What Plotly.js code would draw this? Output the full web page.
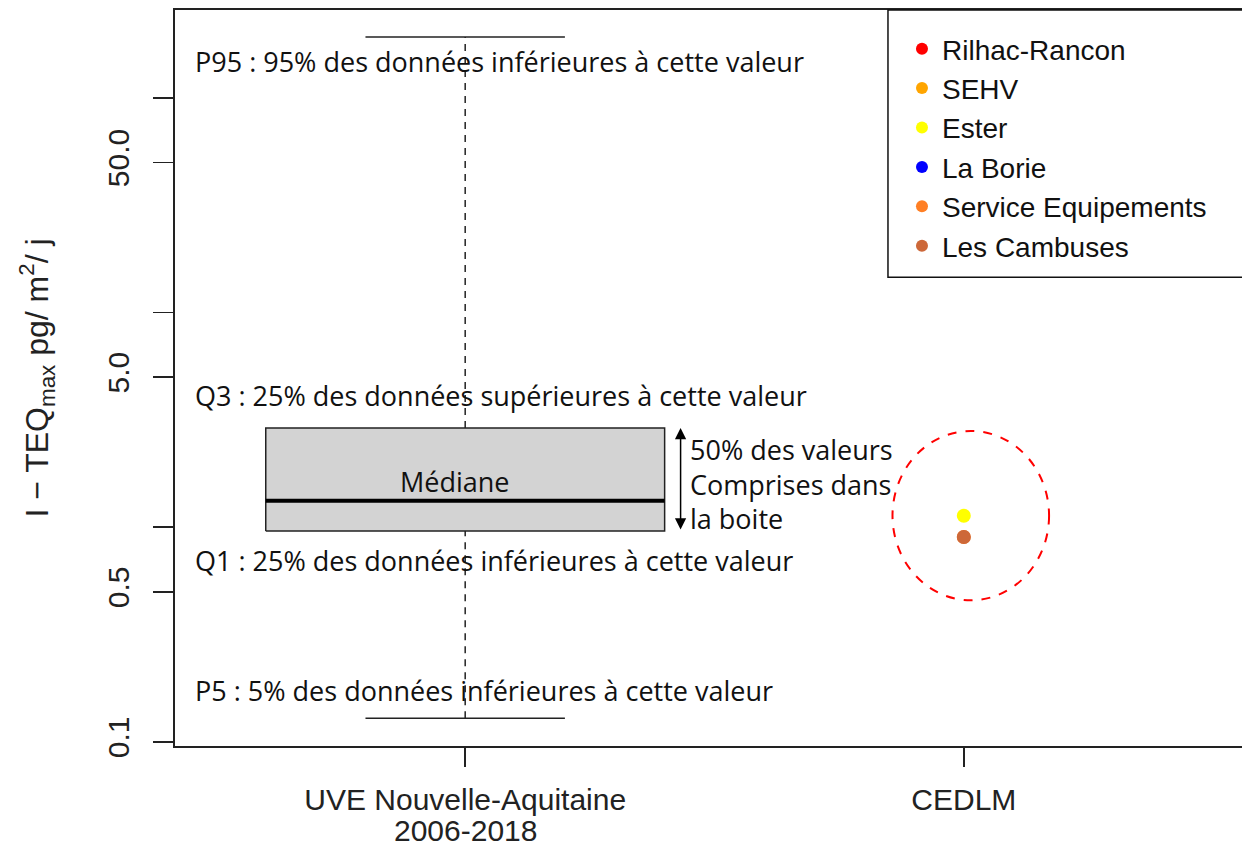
<!DOCTYPE html>
<html>
<head>
<meta charset="utf-8">
<script src="https://cdn.plot.ly/plotly-3.0.1.min.js"></script>
<style>
html, body { margin:0; padding:0; overflow:hidden; background:#fff; }
#chart { width:1252px; height:848px; }
</style>
</head>
<body>
<div id="chart"></div>
<script>
// ---- data ----
const categories = ['UVE Nouvelle-Aquitaine<br>2006-2018', 'CEDLM'];
const categoryPos = [1, 2];
const statNames = ['P5', 'Q1', 'Médiane', 'Q3', 'P95'];
const uveStats = [0.129, 0.96, 1.33, 2.90, 192];
const sites = ['Rilhac-Rancon', 'SEHV', 'Ester', 'La Borie', 'Service Equipements', 'Les Cambuses'];
const siteValues = [null, null, 1.13, null, 0.90, 0.90];
const siteColors = ['#FF0000', '#FFA500', '#FFFF00', '#0000FF', '#FF7F24', '#CD6839'];
const yTickVals = [0.1, 0.5, 5, 50];
const yTickText = ['0.1', '0.5', '5.0', '50.0'];
const yMinorTickVals = [1, 10, 100];

const [p5, q1, med, q3, p95] = uveStats;
const cx = categoryPos[0];
const halfBox = 0.4, halfCap = 0.2;

const ARIAL = 'Liberation Sans, Arial, sans-serif';
const SEGOE = 'Open Sans, Noto Sans, sans-serif';

const traces = [];
traces.push({
  x: [cx - halfBox, cx + halfBox, cx + halfBox, cx - halfBox, cx - halfBox],
  y: [q1, q1, q3, q3, q1],
  mode: 'lines', fill: 'toself', fillcolor: '#D3D3D3',
  line: {color: '#222', width: 1.5}, showlegend: false, hoverinfo: 'skip'
});
traces.push({
  x: [cx - halfBox, cx + halfBox], y: [med, med], mode: 'lines',
  line: {color: '#000', width: 4}, showlegend: false, hoverinfo: 'skip'
});
traces.push({
  x: [cx, cx, null, cx, cx], y: [q3, p95, null, p5, q1], mode: 'lines',
  line: {color: '#222', width: 1.5, dash: '7px,6px'}, showlegend: false, hoverinfo: 'skip'
});
traces.push({
  x: [cx - halfCap, cx + halfCap, null, cx - halfCap, cx + halfCap],
  y: [p95, p95, null, p5, p5], mode: 'lines',
  line: {color: '#222', width: 1.5}, showlegend: false, hoverinfo: 'skip'
});
sites.forEach((s, i) => {
  traces.push({
    x: [categoryPos[1]], y: [siteValues[i]], mode: 'markers', name: s,
    marker: {color: siteColors[i], size: 14}
  });
});

const txtFont = {family: SEGOE, size: 27, color: '#111'};
const xText = 0.454;
const annotations = [
  {x: xText, y: Math.log10(p95), yshift: -25, text: 'P95 : 95% des données inférieures à cette valeur'},
  {x: xText, y: Math.log10(q3), yshift: 32, text: 'Q3 : 25% des données supérieures à cette valeur'},
  {x: xText, y: Math.log10(q1), yshift: -29, text: 'Q1 : 25% des données inférieures à cette valeur'},
  {x: xText, y: Math.log10(p5), yshift: 28, text: 'P5 : 5% des données inférieures à cette valeur'},
].map(a => Object.assign(a, {xref: 'x', yref: 'y', xanchor: 'left', yanchor: 'middle', showarrow: false, font: txtFont}));
annotations.push({x: 0.98, y: Math.log10(med), yshift: 19, text: 'Médiane', xref: 'x', yref: 'y',
  xanchor: 'center', yanchor: 'middle', showarrow: false, font: txtFont});
const boxMidLog = (Math.log10(q1) + Math.log10(q3)) / 2;
[['50% des valeurs', 30], ['Comprises dans', -5], ['la boite', -39]].forEach(([t, sh]) => {
  annotations.push({x: 1.446, y: boxMidLog, yshift: sh, text: t, xref: 'x', yref: 'y',
    xanchor: 'left', yanchor: 'middle', showarrow: false, font: txtFont});
});
annotations.push({x: 1.432, y: Math.log10(q3), ax: 1.432, ay: Math.log10(q1), axref: 'x', ayref: 'y',
  xref: 'x', yref: 'y', text: '', showarrow: true, arrowhead: 2, startarrowhead: 2, arrowside: 'end+start',
  arrowsize: 1.5, startarrowsize: 1.5, arrowwidth: 1.5, arrowcolor: '#000'});

// category labels: first line as tick text, following line(s) as annotation just below
const catParts = categories.map(c => c.split('<br>'));
const tickFont = {family: ARIAL, size: 30, color: '#222'};
catParts.forEach((parts, i) => {
  parts.slice(1).forEach((p, j) => {
    annotations.push({x: categoryPos[i], y: 0, xref: 'x', yref: 'paper', yanchor: 'middle', xanchor: 'center',
      yshift: -84 - 31 * j, text: p, showarrow: false, font: tickFont});
  });
});

const layout = {
  width: 1252, height: 848,
  margin: {l: 175, r: 0, t: 10, b: 102},
  paper_bgcolor: '#fff', plot_bgcolor: '#fff',
  showlegend: true,
  legend: {x: 0.675, y: 0.981, xanchor: 'left', yanchor: 'top', bgcolor: 'rgba(0,0,0,0)',
    borderwidth: 0, font: {family: ARIAL, size: 28, color: '#111'}, itemsizing: 'constant'},
  xaxis: {range: [0.418, 2.578], tickvals: categoryPos, ticktext: catParts.map(p => p[0]),
    ticks: 'outside', ticklen: 19, tickwidth: 1.5, tickcolor: '#222', ticklabelstandoff: 7,
    tickfont: tickFont,
    showgrid: false, zeroline: false, showline: true, linewidth: 2, linecolor: '#222', mirror: true},
  yaxis: {type: 'log', range: [-1.019, 2.409], tickvals: yTickVals, ticktext: yTickText,
    tickangle: -90, ticks: 'outside', ticklen: 20, tickwidth: 1.5, tickcolor: '#222', ticklabelstandoff: 12,
    minor: {tickvals: yMinorTickVals, ticks: 'outside', ticklen: 20, tickwidth: 1.5, tickcolor: '#222', showgrid: false},
    tickfont: {family: ARIAL, size: 30, color: '#222'},
    showgrid: false, zeroline: false, showline: true, linewidth: 2, linecolor: '#222', mirror: true,
    title: {text: 'I − TEQ<sub>max</sub> pg/ m<sup>2</sup>/ j', font: {family: ARIAL, size: 32, color: '#222'}, standoff: 44}},
  shapes: [
    {type: 'circle', xref: 'x', yref: 'paper', x0: 2.014 - 0.157, x1: 2.014 + 0.157,
      y0: 0.198, y1: 0.428, line: {color: '#FF0000', width: 2, dash: 'dash'}},
    {type: 'rect', xref: 'paper', yref: 'paper', x0: 0.662, x1: 1.2, y0: 0.637, y1: 1,
      line: {color: '#111', width: 1.5}, fillcolor: 'rgba(0,0,0,0)', layer: 'above'}
  ],
  annotations: annotations
};

Plotly.newPlot('chart', traces, layout, {displayModeBar: false, staticPlot: true});
</script>
</body>
</html>
